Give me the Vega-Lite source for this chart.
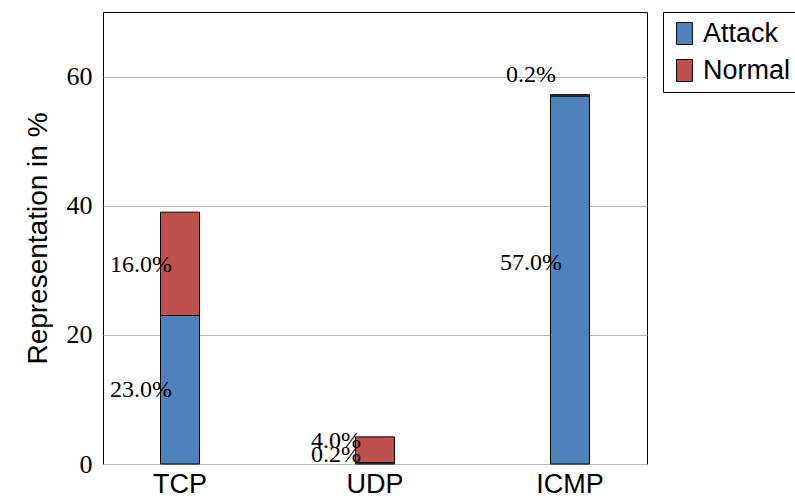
{
  "$schema": "https://vega.github.io/schema/vega-lite/v6.json",
  "width": 544,
  "height": 452,
  "autosize": "none",
  "padding": {"left": 103, "top": 12, "right": 148, "bottom": 35},
  "background": "white",
  "config": {
    "view": {"stroke": "black", "strokeWidth": 1},
    "legend": {
      "orient": "none",
      "legendX": 560,
      "legendY": 0,
      "strokeColor": "black",
      "strokeWidth": 1,
      "padding": 8,
      "labelFont": "Liberation Sans",
      "labelFontSize": 27,
      "labelColor": "black",
      "labelOffset": 5,
      "rowPadding": 9,
      "symbolType": "M-0.72,-1H0.72V1H-0.72Z",
      "symbolSize": 484,
      "symbolStrokeColor": "black",
      "symbolStrokeWidth": 1,
      "symbolOpacity": 1
    }
  },
  "layer": [
    {
      "data": {
        "values": [
          {"protocol": "TCP", "type": "Attack", "ord": 1, "value": 23.0},
          {"protocol": "TCP", "type": "Normal", "ord": 2, "value": 16.0},
          {"protocol": "UDP", "type": "Attack", "ord": 1, "value": 0.2},
          {"protocol": "UDP", "type": "Normal", "ord": 2, "value": 4.0},
          {"protocol": "ICMP", "type": "Attack", "ord": 1, "value": 57.0},
          {"protocol": "ICMP", "type": "Normal", "ord": 2, "value": 0.2}
        ]
      },
      "mark": {"type": "bar", "stroke": "black", "strokeWidth": 1, "opacity": 1},
      "encoding": {
        "x": {
          "field": "protocol",
          "type": "nominal",
          "sort": ["TCP", "UDP", "ICMP"],
          "scale": {"paddingInner": 0.8, "paddingOuter": 0.295},
          "axis": {
            "title": null,
            "labelAngle": 0,
            "labelFont": "Liberation Sans",
            "labelFontSize": 27,
            "labelColor": "black",
            "labelPadding": 7,
            "ticks": false,
            "domain": false
          }
        },
        "y": {
          "field": "value",
          "type": "quantitative",
          "stack": "zero",
          "scale": {"domain": [0, 70], "nice": false},
          "axis": {
            "values": [0, 20, 40, 60],
            "title": "Representation in %",
            "titleFont": "Liberation Sans",
            "titleFontSize": 28,
            "titleFontWeight": "normal",
            "titleColor": "black",
            "titlePadding": 14,
            "labelFont": "Liberation Serif",
            "labelFontSize": 26,
            "labelColor": "black",
            "labelPadding": 11,
            "ticks": false,
            "domain": false,
            "grid": true,
            "gridColor": "#b5b5b5",
            "gridWidth": 1
          }
        },
        "color": {
          "field": "type",
          "type": "nominal",
          "scale": {"domain": ["Attack", "Normal"], "range": ["#4f81bd", "#c0504d"]},
          "legend": {"title": null}
        },
        "order": {"field": "ord"}
      }
    },
    {
      "data": {
        "values": [
          {"protocol": "TCP", "label": "23.0%", "pos": 11.5},
          {"protocol": "TCP", "label": "16.0%", "pos": 30.8},
          {"protocol": "UDP", "label": "0.2%", "pos": 1.4},
          {"protocol": "UDP", "label": "4.0%", "pos": 3.6},
          {"protocol": "ICMP", "label": "57.0%", "pos": 31.2},
          {"protocol": "ICMP", "label": "0.2%", "pos": 60.2}
        ]
      },
      "mark": {
        "type": "text",
        "font": "Liberation Serif",
        "fontSize": 24,
        "color": "black",
        "align": "center",
        "baseline": "middle",
        "dx": -39
      },
      "encoding": {
        "x": {"field": "protocol", "type": "nominal", "sort": ["TCP", "UDP", "ICMP"]},
        "y": {"field": "pos", "type": "quantitative", "stack": null},
        "text": {"field": "label"}
      }
    }
  ]
}
